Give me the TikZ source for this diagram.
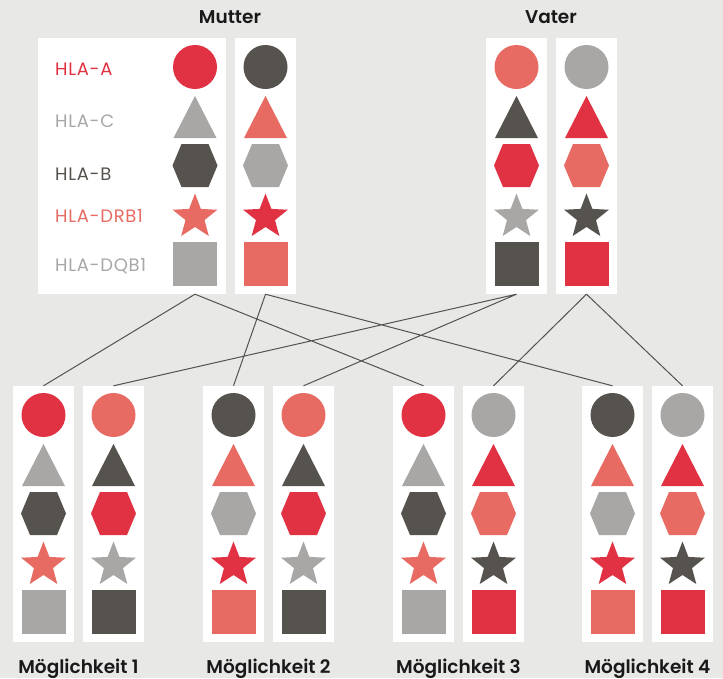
\documentclass[tikz,border=0pt]{standalone}
\usepackage{fontspec}
\setmainfont{Poppins}
\newfontfamily\titlefont{Poppins SemiBold}
\newfontfamily\genefont{Poppins}[LetterSpace=4]
\definecolor{bg}{HTML}{E8E8E7}
\definecolor{hred}{HTML}{E03243}
\definecolor{hsalmon}{HTML}{E76B62}
\definecolor{hdark}{HTML}{56524D}
\definecolor{hlight}{HTML}{A8A7A5}
\tikzset{
  chrom/.style={fill=white, minimum width=61pt, minimum height=256pt, inner sep=0pt},
  link/.style={hdark, line width=1pt},
  title/.style={font=\titlefont\fontsize{18.5}{20}\selectfont, text=black!90, anchor=base},
  gene/.style={font=\genefont\fontsize{18}{20}\selectfont, anchor=west, inner sep=0pt}
}
% one chromosome: name, x, top, colours of circle/triangle/hexagon/star/square
\newcommand{\chrom}[4]{%
  \node[chrom] (#1) at (#2,#3+128) {};
  \edef\hapcur{#4}
  \foreach \ca/\cb/\cc/\cd/\ce in \hapcur {
    \fill[\ca] (#2,#3+29) circle (22);
    \fill[\cb] (#2-21.5,#3+100) -- (#2+21.5,#3+100) -- (#2,#3+58) -- cycle;
    \fill[\cc] (#2-22.5,#3+127.5) -- (#2-13.5,#3+106) -- (#2+13.5,#3+106) -- (#2+22.5,#3+127.5) -- (#2+13.5,#3+149) -- (#2-13.5,#3+149) -- cycle;
    \begin{scope}[shift={(#2,#3+179)}]
      \fill[\cd] (-90:23.5) -- (-54:10) -- (-18:23.5) -- (18:10) -- (54:23.5) -- (90:10) -- (126:23.5) -- (162:10) -- (198:23.5) -- (234:10) -- cycle;
    \end{scope}
    \fill[\ce] (#2-22,#3+204) rectangle (#2+22,#3+248);
  }
}
% the four haplotypes
\newcommand{\hapMa}{hred/hlight/hdark/hsalmon/hlight}
\newcommand{\hapMb}{hdark/hsalmon/hlight/hred/hsalmon}
\newcommand{\hapVa}{hsalmon/hdark/hred/hlight/hdark}
\newcommand{\hapVb}{hlight/hred/hsalmon/hdark/hred}

\begin{document}
\begin{tikzpicture}[x=1pt, y=-1pt]
  \fill[bg] (0,0) rectangle (723,678);
  \useasboundingbox (0,0) rectangle (723,678);
  % parents
  \node[title] (mutter) at (230,23) {Mutter};
  \node[title] (vater) at (551,23) {Vater};
  \node[chrom, minimum width=188pt] (legend) at (132,166) {};
  \chrom{m1}{195}{38}{\hapMa}
  \chrom{m2}{265.5}{38}{\hapMb}
  \chrom{v1}{516.5}{38}{\hapVa}
  \chrom{v2}{586.5}{38}{\hapVb}
  % gene names
  \node[gene, text=hred] (lA) at (55,69) {HLA-A};
  \node[gene, text=hlight] (lC) at (55,121) {HLA-C};
  \node[gene, text=hdark] (lB) at (55,174) {HLA-B};
  \node[gene, text=hsalmon] (lDR) at (55,216) {HLA-DRB1};
  \node[gene, text=hlight] (lDQ) at (55,266) {HLA-DQB1};
  % children
  \foreach \n/\x/\m/\v in {1/43.5/Ma/Va, 2/233.5/Mb/Va, 3/423.5/Ma/Vb, 4/612.5/Mb/Vb} {
    \chrom{k\n1}{\x}{386}{\csname hap\m\endcsname}
    \chrom{k\n2}{\x+70}{386}{\csname hap\v\endcsname}
    \node[title] (moeg\n) at (\x+35,673) {Möglichkeit \n};
  }
  % inheritance
  \draw[link] (m1.south) -- (k11.north) (m1.south) -- (k31.north)
              (m2.south) -- (k21.north) (m2.south) -- (k41.north)
              (v1.south) -- (k12.north) (v1.south) -- (k22.north)
              (v2.south) -- (k32.north) (v2.south) -- (k42.north);
\end{tikzpicture}
\end{document}
